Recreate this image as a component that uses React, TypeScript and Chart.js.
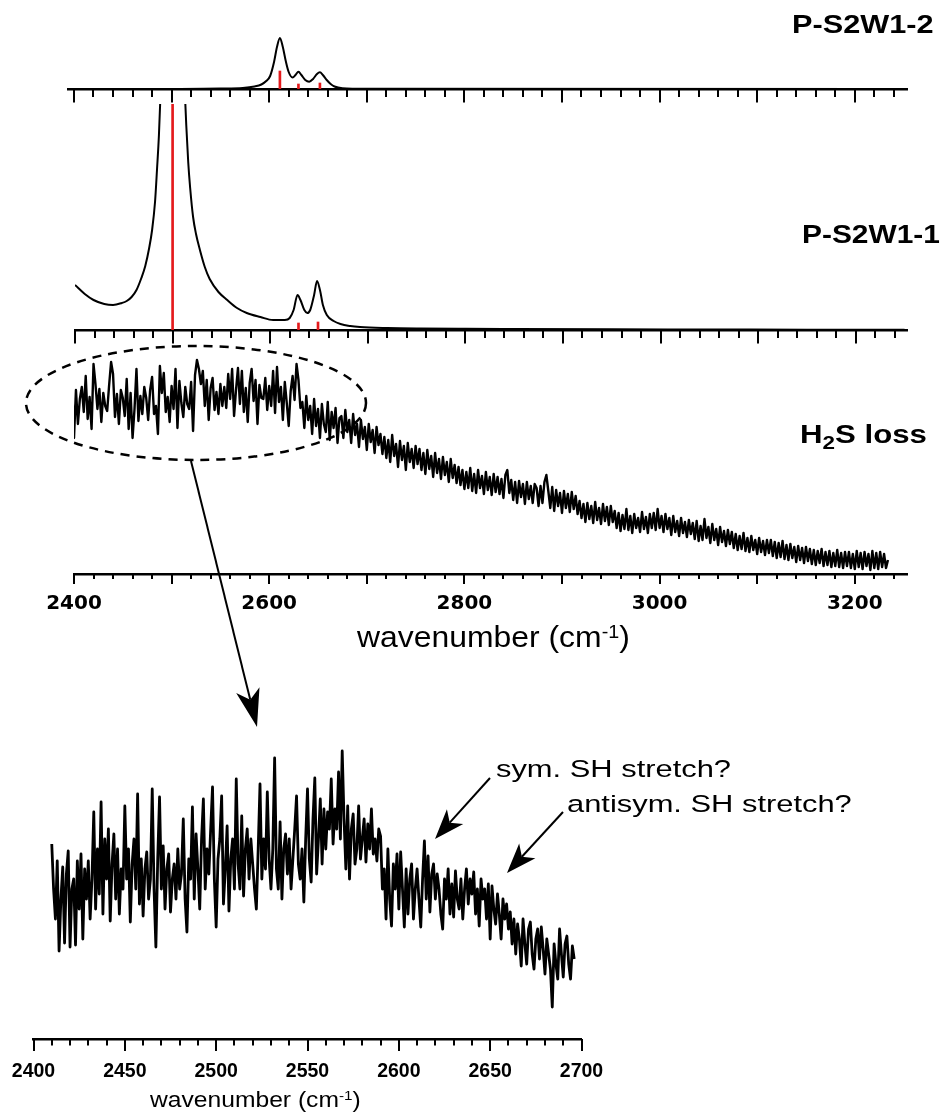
import React, { useEffect, useRef } from "react";
import { Chart, registerables } from "chart.js";
Chart.register(...registerables);

// ---------------- data ----------------
// P-S2W1-2 computed spectrum (wavenumber, intensity)
const S2_WN = [2394, 2500, 2550, 2573, 2585, 2592, 2597, 2601, 2605, 2608, 2611, 2614, 2617, 2620, 2624, 2627, 2630, 2633, 2637, 2641, 2645, 2649, 2652, 2655, 2659, 2663, 2667, 2675, 2700, 3253];
const S2_INT = [0, 0.1, 0.4, 1, 2.5, 4.5, 8, 13, 27, 42, 51, 42, 28, 17, 11.5, 14, 17.3, 14, 9, 7.3, 10, 15, 16.7, 14, 9, 5, 2.5, 0.8, 0.2, 0];
const S2_STICK_WN = [2611, 2630, 2652];
const S2_STICK_INT = [18, 5, 6];

// P-S2W1-1 computed spectrum
const S1_WN = [2400, 2410, 2419, 2430, 2439, 2448, 2453, 2458, 2463, 2468, 2472, 2476, 2479, 2482, 2484, 2486, 2488, 2490, 2494, 2500, 2506, 2510, 2512, 2514, 2516, 2518, 2521, 2524, 2528, 2533, 2538, 2547, 2556, 2566, 2576, 2590, 2603, 2615, 2620, 2624, 2628, 2631, 2635, 2638, 2641, 2645, 2648, 2651, 2654, 2658, 2665, 2672, 2682, 2692, 2720, 2754, 2800, 2850, 2950, 3050, 3150, 3250];
const S1_INT = [45, 36, 30, 26, 25, 27, 29, 33, 40, 52, 64, 82, 100, 128, 160, 195, 245, 305, 520, 830, 520, 305, 250, 205, 168, 142, 113, 96, 80, 63, 51, 38, 30, 22, 17, 13, 10, 10, 12, 20, 35, 30, 20, 17, 20, 35, 49, 40, 25, 15, 9, 6, 4, 3, 2, 1.5, 1.2, 1, 0.7, 0.5, 0.3, 0.2];
const S1_STICK_WN = [2500, 2629, 2649];
const S1_STICK_INT = [1000, 7, 8];

// H2S loss experimental spectrum (sampled every 2 cm-1 from 2394)
const H2S_START = 2394;
const H2S_STEP = 2;
const H2S_INT = [
  179, 158, 192, 136, 184, 150, 175, 187, 162, 198, 155, 177, 145, 210, 190, 165, 185, 152, 181, 168,
  163, 189, 212, 200, 157, 180, 150, 184, 176, 158, 195, 145, 181, 136, 165, 205, 153, 178, 160, 187,
  176, 154, 184, 197, 160, 168, 140, 208, 181, 201, 162, 177, 152, 188, 165, 205, 146, 193, 171, 157,
  187, 170, 165, 192, 143, 199, 214, 205, 190, 203, 168, 194, 154, 186, 196, 164, 182, 160, 190, 168,
  187, 166, 200, 175, 205, 158, 184, 206, 170, 203, 162, 186, 152, 191, 205, 173, 194, 150, 189, 176,
  175, 196, 164, 188, 168, 203, 161, 207, 172, 187, 154, 192, 171, 148, 183, 198, 174, 210, 194, 166,
  172, 146, 178, 154, 168, 140, 175, 148, 165, 136, 170, 150, 142, 172, 134, 162, 146, 166, 131, 156,
  158, 136, 164, 142, 154, 131, 160, 139, 150, 127, 154, 135, 147, 124, 150, 132, 144, 121, 147, 129,
  140, 120, 137, 116, 134, 112, 139, 118, 130, 107, 133, 114, 128, 104, 131, 112, 125, 106, 128, 110,
  125, 104, 121, 100, 124, 105, 118, 97, 121, 101, 115, 95, 117, 99, 112, 92, 115, 96, 109, 91,
  107, 89, 104, 85, 102, 86, 106, 83, 100, 81, 104, 86, 98, 80, 102, 84, 97, 79, 100, 82,
  97, 80, 95, 76, 99, 104, 81, 94, 74, 92, 71, 93, 77, 90, 70, 92, 75, 88, 71, 90,
  86, 68, 88, 71, 92, 99, 83, 66, 87, 63, 84, 68, 81, 61, 83, 66, 80, 62, 82, 65,
  78, 60, 73, 56, 70, 52, 71, 55, 68, 51, 72, 54, 66, 50, 70, 53, 67, 49, 68, 52,
  63, 46, 61, 43, 59, 45, 65, 44, 58, 41, 60, 46, 56, 42, 62, 45, 57, 41, 60, 46,
  61, 44, 65, 46, 58, 42, 60, 45, 56, 39, 58, 42, 53, 38, 56, 41, 52, 37, 54, 40,
  51, 35, 53, 33, 48, 34, 55, 36, 47, 31, 50, 34, 45, 29, 47, 32, 43, 28, 44, 30,
  42, 26, 40, 24, 38, 25, 41, 23, 36, 22, 38, 24, 34, 20, 36, 22, 33, 19, 34, 21,
  34, 18, 32, 16, 31, 17, 33, 15, 29, 14, 30, 16, 27, 12, 28, 14, 26, 11, 27, 13,
  25, 10, 24, 9, 23, 11, 25, 8, 22, 9, 23, 7, 21, 8, 24, 7, 21, 6, 22, 8,
  22, 6, 20, 5, 23, 7, 21, 5, 22, 8, 20, 4, 23, 6, 21, 5, 22, 7, 20, 6,
  14,
];

// zoomed H2S loss region (sampled every 1 cm-1 from 2410)
const ZOOM_START = 2410;
const ZOOM_STEP = 1;
const ZOOM_INT = [
  195, 150, 120, 178, 88, 140, 172, 96, 165, 188,
  92, 150, 160, 94, 178, 130, 185, 100, 170, 140,
  178, 120, 160, 227, 130, 190, 145, 237, 125, 200,
  160, 210, 118, 175, 205, 140, 190, 125, 170, 150,
  233, 160, 190, 117, 175, 200, 150, 245, 135, 180,
  123, 170, 187, 140, 160, 250, 150, 92, 180, 242,
  150, 193, 130, 170, 185, 127, 160, 175, 140, 190,
  150, 165, 220, 140, 107, 180, 160, 232, 140, 205,
  170, 130, 200, 240, 150, 190, 165, 210, 252, 160,
  112, 180, 200, 243, 135, 170, 213, 128, 180, 200,
  150, 260, 175, 150, 223, 143, 190, 210, 160, 200,
  175, 150, 130, 190, 255, 160, 200, 170, 247, 180,
  150, 190, 281, 170, 150, 217, 140, 190, 205, 165,
  200, 150, 180, 210, 243, 175, 160, 190, 137, 200,
  250, 180, 157, 220, 261, 165, 200, 240, 175, 230,
  190, 227, 210, 260, 195, 230, 210, 267, 200, 288,
  220, 170, 233, 160, 210, 225, 175, 190, 233, 180,
  200, 220, 177, 215, 190, 230, 185, 200, 178, 210,
  203, 150, 170, 120, 190, 140, 113, 175, 150, 185,
  130, 187, 150, 112, 170, 125, 160, 175, 120, 150,
  170, 140, 112, 160, 198, 140, 183, 127, 165, 175,
  140, 165, 150, 125, 110, 160, 140, 170, 125, 155,
  122, 168, 140, 130, 160, 120, 150, 170, 135, 160,
  145, 167, 125, 150, 113, 160, 140, 150, 120, 155,
  100, 153, 130, 115, 145, 125, 100, 140, 120, 135,
  110, 127, 95, 120, 85, 115, 100, 73, 120, 95,
  75, 110, 117, 85, 70, 100, 110, 80, 112, 90,
  65, 100, 85, 70, 32, 95, 75, 60, 110, 85,
  62, 95, 103, 75, 60, 93, 80,
];

// axes
const TOP_TICK_START = 2400;
const TOP_TICK_END = 3240;
const TOP_TICK_STEP = 20;
const TOP_MAJOR = [2400, 2500, 2600, 2700, 2800, 2900, 3000, 3100, 3200];
const TOP_LABELS = [2400, 2600, 2800, 3000, 3200];
const BOT_TICK_START = 2400;
const BOT_TICK_END = 2700;
const BOT_TICK_STEP = 10;
const BOT_MAJOR = [2400, 2450, 2500, 2550, 2600, 2650, 2700];
const BOT_LABELS = [2400, 2450, 2500, 2550, 2600, 2650, 2700];

// ---------------- helpers ----------------
const W = 944;
const pairs = (xs: number[], ys: number[]) => xs.map((x, i) => ({ x, y: ys[i] }));
const sampled = (start: number, step: number, ys: number[]) => ys.map((y, i) => ({ x: start + i * step, y }));
const tickList = (a: number, b: number, s: number) => {
  const out: number[] = [];
  for (let v = a; v <= b + 1e-9; v += s) out.push(v);
  return out;
};

// draws minor / major tick marks at the x scale's tick values
const tickMarkPlugin = {
  id: "tickMarks",
  afterDraw(chart: any, _args: any, opts: any) {
    const sc = chart.scales.x;
    const ctx = chart.ctx;
    ctx.save();
    ctx.strokeStyle = "#000";
    ctx.lineWidth = 2;
    for (const t of sc.ticks) {
      const v = t.value;
      const len = opts.major.includes(v) ? opts.majorLen : opts.minorLen;
      const px = Math.round(sc.getPixelForValue(v));
      ctx.beginPath();
      ctx.moveTo(px, sc.top);
      ctx.lineTo(px, sc.top + len);
      ctx.stroke();
    }
    ctx.restore();
  },
};

const RED = "#e41a1c";
const lineDs = (data: any[], width: number, smooth: boolean) => ({
  type: "line",
  data,
  borderColor: "#000",
  borderWidth: width,
  borderJoinStyle: "round",
  pointRadius: 0,
  fill: false,
  tension: 0,
  cubicInterpolationMode: smooth ? "monotone" : "default",
});
const stickDs = (data: any[]) => ({
  type: "bar",
  data,
  backgroundColor: RED,
  borderWidth: 0,
  barThickness: 2,
});

type Panel = {
  top: number; height: number; axisY: number; chartTop: number;
  left: number; right: number; xMin: number; xMax: number;
  ticks: number[]; major: number[]; labels: number[];
  minorLen: number; majorLen: number; labelOffset: number; labelFont: any;
  datasets: any[];
};

const PANELS: Panel[] = [
  {
    top: 0, height: 110, axisY: 89, chartTop: 30, left: 68, right: 907,
    xMin: 2393.9, xMax: 3253.5,
    ticks: tickList(TOP_TICK_START, TOP_TICK_END, TOP_TICK_STEP), major: TOP_MAJOR, labels: [],
    minorLen: 8, majorLen: 13.5, labelOffset: 14, labelFont: { size: 12 },
    datasets: [lineDs(pairs(S2_WN, S2_INT), 2, true), stickDs(pairs(S2_STICK_WN, S2_STICK_INT))],
  },
  {
    top: 100, height: 250, axisY: 330, chartTop: 104, left: 75, right: 907,
    xMin: 2400, xMax: 3252.5,
    ticks: tickList(TOP_TICK_START, TOP_TICK_END, TOP_TICK_STEP), major: TOP_MAJOR, labels: [],
    minorLen: 8, majorLen: 13.5, labelOffset: 14, labelFont: { size: 12 },
    datasets: [lineDs(pairs(S1_WN, S1_INT), 2, true), stickDs(pairs(S1_STICK_WN, S1_STICK_INT))],
  },
  {
    top: 340, height: 290, axisY: 574, chartTop: 344, left: 74, right: 907,
    xMin: 2400, xMax: 3253.5,
    ticks: tickList(TOP_TICK_START, TOP_TICK_END, TOP_TICK_STEP), major: TOP_MAJOR, labels: TOP_LABELS,
    minorLen: 5, majorLen: 10, labelOffset: 18,
    labelFont: { family: "'DejaVu Sans', sans-serif", size: 20, weight: "bold" },
    datasets: [lineDs(sampled(H2S_START, H2S_STEP, H2S_INT), 2.4, false)],
  },
  {
    top: 720, height: 392, axisY: 1039, chartTop: 740, left: 33.5, right: 581.5,
    xMin: 2400, xMax: 2700,
    ticks: tickList(BOT_TICK_START, BOT_TICK_END, BOT_TICK_STEP), major: BOT_MAJOR, labels: BOT_LABELS,
    minorLen: 6.5, majorLen: 12, labelOffset: 21.3,
    labelFont: { family: "'Liberation Sans', Arial, sans-serif", size: 19.5, weight: "bold" },
    datasets: [lineDs(sampled(ZOOM_START, ZOOM_STEP, ZOOM_INT), 2.8, false)],
  },
];

function buildConfig(p: Panel): any {
  return {
    type: "line",
    data: { datasets: p.datasets },
    options: {
      animation: false,
      responsive: false,
      maintainAspectRatio: false,
      events: [],
      layout: { autoPadding: false, padding: { top: p.chartTop - p.top, left: p.left, right: W - p.right, bottom: 0 } },
      plugins: {
        legend: { display: false },
        tooltip: { enabled: false },
        tickMarks: { major: p.major, majorLen: p.majorLen, minorLen: p.minorLen },
      },
      scales: {
        x: {
          type: "linear",
          min: p.xMin,
          max: p.xMax,
          offset: false,
          afterBuildTicks: (ax: any) => {
            ax.ticks = p.ticks.map((v) => ({ value: v }));
          },
          afterFit: (ax: any) => {
            ax.height = p.top + p.height - p.axisY;
          },
          border: { display: true, color: "#000", width: 2.5 },
          grid: {
            display: true, offset: false, drawOnChartArea: false, drawTicks: true,
            tickLength: p.labelOffset, tickWidth: 1, tickColor: "rgba(0,0,0,0)",
          },
          ticks: {
            display: p.labels.length > 0,
            autoSkip: false,
            maxRotation: 0,
            minRotation: 0,
            color: "#000",
            padding: 0,
            font: p.labelFont,
            callback: (v: any) => (p.labels.includes(Number(v)) ? String(v) : ""),
          },
        },
        y: { display: false, min: 0, max: p.axisY - p.chartTop },
      },
    },
    plugins: [tickMarkPlugin],
  };
}

function arrow(x1: number, y1: number, x2: number, y2: number, len: number, half: number, notch: number) {
  const dx = x2 - x1, dy = y2 - y1;
  const L = Math.hypot(dx, dy);
  const ux = dx / L, uy = dy / L;
  const px = -uy, py = ux;
  const bx = x2 - ux * len, by = y2 - uy * len;
  const nx = x2 - ux * notch, ny = y2 - uy * notch;
  return {
    line: { x1, y1, x2: nx, y2: ny },
    poly: `${x2},${y2} ${bx + px * half},${by + py * half} ${nx},${ny} ${bx - px * half},${by - py * half}`,
  };
}

const ARROWS = [
  arrow(191, 461, 257, 727, 38, 12, 28),
  arrow(490, 778, 435, 839, 30, 11, 22),
  arrow(563, 812, 507, 873, 30, 11, 22),
];

const textBase: React.CSSProperties = {
  position: "absolute",
  lineHeight: 1,
  whiteSpace: "nowrap",
  color: "#000",
  transformOrigin: "0 0",
  margin: 0,
};
const SANS = "'Liberation Sans', Arial, Helvetica, sans-serif";

function Label(props: { left: number; top: number; size: number; bold?: boolean; sx: number; children: any }) {
  return (
    <div
      style={{
        ...textBase,
        left: props.left,
        top: props.top,
        fontFamily: SANS,
        fontSize: props.size,
        fontWeight: props.bold ? 700 : 400,
        transform: `scaleX(${props.sx})`,
      }}
    >
      {props.children}
    </div>
  );
}

const supStyle: React.CSSProperties = { fontSize: "0.62em", verticalAlign: "0.5em", lineHeight: 0 };
const subStyle: React.CSSProperties = { fontSize: "0.72em", verticalAlign: "-0.32em", lineHeight: 0 };

export default function App() {
  const refs = useRef<(HTMLCanvasElement | null)[]>([]);
  useEffect(() => {
    const charts = PANELS.map((p, i) => new Chart(refs.current[i] as HTMLCanvasElement, buildConfig(p)));
    return () => charts.forEach((c) => c.destroy());
  }, []);

  return (
    <div style={{ position: "absolute", left: 0, top: 0, width: W, height: 1112, background: "#fff", overflow: "hidden" }}>
      {PANELS.map((p, i) => (
        <canvas
          key={i}
          ref={(el) => { refs.current[i] = el; }}
          width={W}
          height={p.height}
          style={{ position: "absolute", left: 0, top: p.top, width: W, height: p.height }}
        />
      ))}
      <svg width={W} height={1112} style={{ position: "absolute", left: 0, top: 0, pointerEvents: "none" }}>
        <ellipse cx={196} cy={403} rx={170} ry={57} fill="none" stroke="#000" strokeWidth={2.5} strokeDasharray="9 7" />
        {ARROWS.map((a, i) => (
          <g key={i}>
            <line x1={a.line.x1} y1={a.line.y1} x2={a.line.x2} y2={a.line.y2} stroke="#000" strokeWidth={2} />
            <polygon points={a.poly} fill="#000" />
          </g>
        ))}
      </svg>
      <Label left={792} top={11} size={26} bold sx={1.18}>P-S2W1-2</Label>
      <Label left={802} top={221} size={26} bold sx={1.15}>P-S2W1-1</Label>
      <Label left={800} top={421} size={26} bold sx={1.2}>
        H<sub style={subStyle}>2</sub>S loss
      </Label>
      <Label left={357} top={622.5} size={29} sx={1.1}>
        wavenumber (cm<sup style={supStyle}>-1</sup>)
      </Label>
      <Label left={496} top={757.3} size={24.5} sx={1.26}>sym. SH stretch?</Label>
      <Label left={567} top={792.3} size={24.5} sx={1.26}>antisym. SH stretch?</Label>
      <Label left={150} top={1089.4} size={22} sx={1.12}>
        wavenumber (cm<sup style={supStyle}>-1</sup>)
      </Label>
    </div>
  );
}
